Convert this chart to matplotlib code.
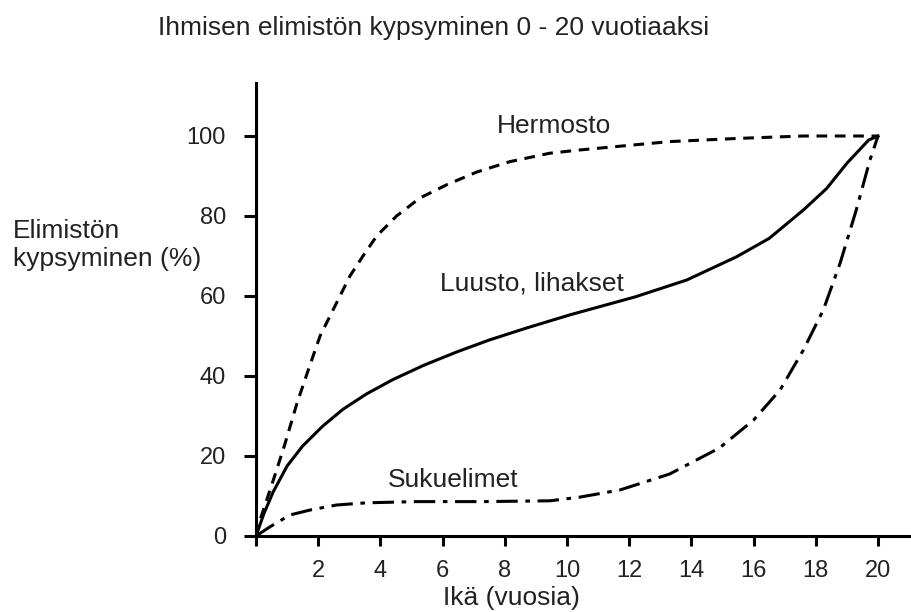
import matplotlib
matplotlib.use("Agg")
import matplotlib.pyplot as plt

plt.rcParams['font.family'] = ['Liberation Sans', 'DejaVu Sans']

# readings, age in years vs. maturity %
hermosto_age = [0, 0.13, 0.6, 0.93, 1.31, 1.68, 2.06, 2.38, 2.7, 3.02, 3.44, 3.88,
                4.52, 5.27, 6.13, 7.1, 8.17, 9.45, 10.4, 11.5, 13.3, 15.5, 17.6, 20]
hermosto_pct = [0, 4, 15, 23, 33, 41.5, 50, 55, 60, 65, 70, 75,
                80, 84.5, 87.8, 91, 93.6, 95.7, 96.5, 97.3, 98.6, 99.4, 100, 100]

luusto_age = [0, 0.25, 0.55, 1.0, 1.5, 2.15, 2.8, 3.55, 4.4, 5.4, 6.45, 7.5,
              8.7, 10.1, 12.2, 13.85, 15.45, 16.5, 17.6, 18.35, 19.0, 19.7, 20]
luusto_pct = [0, 5.5, 11, 17.5, 22.5, 27.5, 31.7, 35.5, 39.1, 42.7, 46, 49,
              52, 55.3, 59.8, 64, 69.8, 74.4, 81.5, 86.9, 93.2, 99, 100]

suku_age = [0, 0.45, 1.09, 1.74, 2.59, 3.56, 5.17, 7.3, 9.45, 10.4, 11.7, 13.3,
            14.9, 16.0, 16.85, 17.6, 18.24, 18.78, 19.3, 19.74, 20]
suku_pct = [0, 2.3, 5.25, 6.5, 7.75, 8.3, 8.6, 8.6, 8.8, 9.7, 11.5, 15.5,
            22, 29, 36.5, 46.5, 56.5, 68.2, 81.5, 94, 100]

x_ticks = [0, 2, 4, 6, 8, 10, 12, 14, 16, 18, 20]
x_labels = ['', '2', '4', '6', '8', '10', '12', '14', '16', '18', '20']
y_ticks = [0, 20, 40, 60, 80, 100]

W, H = 911, 612
fig = plt.figure(figsize=(W / 100, H / 100), dpi=100)
ax = fig.add_axes([256 / W, 1 - 536 / H, 655 / W, 453 / H])

ax.plot(hermosto_age, hermosto_pct, color='black', lw=2.2,
        linestyle=(0, (3.5, 2.5)))
ax.plot(luusto_age, luusto_pct, color='black', lw=2.2)
ax.plot(suku_age, suku_pct, color='black', lw=2.2,
        linestyle=(0, (7, 2.5, 1.5, 2.5)))

ax.set_xlim(0, 21.06)
ax.set_ylim(0, 113.25)
ax.spines['top'].set_visible(False)
ax.spines['right'].set_visible(False)
ax.spines['left'].set_linewidth(2.2)
ax.spines['bottom'].set_linewidth(2.2)

ax.set_xticks(x_ticks)
ax.set_xticklabels(x_labels)
ax.set_yticks(y_ticks)
ax.tick_params(axis='x', length=7.2, width=2.2, pad=10, labelsize=17, labelcolor='#222222')
ax.tick_params(axis='y', length=8.6, width=2.2, pad=13, labelsize=17, labelcolor='#222222')

txt = dict(color='#222222', fontsize=19, va='baseline')
fig.text(434 / W, 1 - 35 / H, 'Ihmisen elimistön kypsyminen 0 - 20 vuotiaaksi',
         ha='center', **txt)
fig.text(13 / W, 1 - 238 / H, 'Elimistön', ha='left', **txt)
fig.text(13 / W, 1 - 266 / H, 'kypsyminen (%)', ha='left', **txt)
fig.text(443 / W, 1 - 605 / H, 'Ikä (vuosia)', ha='left', **txt)
fig.text(497 / W, 1 - 133 / H, 'Hermosto', ha='left', **txt)
fig.text(440 / W, 1 - 290 / H, 'Luusto, lihakset', ha='left', **txt)
fig.text(388 / W, 1 - 487 / H, 'Sukuelimet', ha='left', **txt)

fig.savefig('out.png', dpi=100)
